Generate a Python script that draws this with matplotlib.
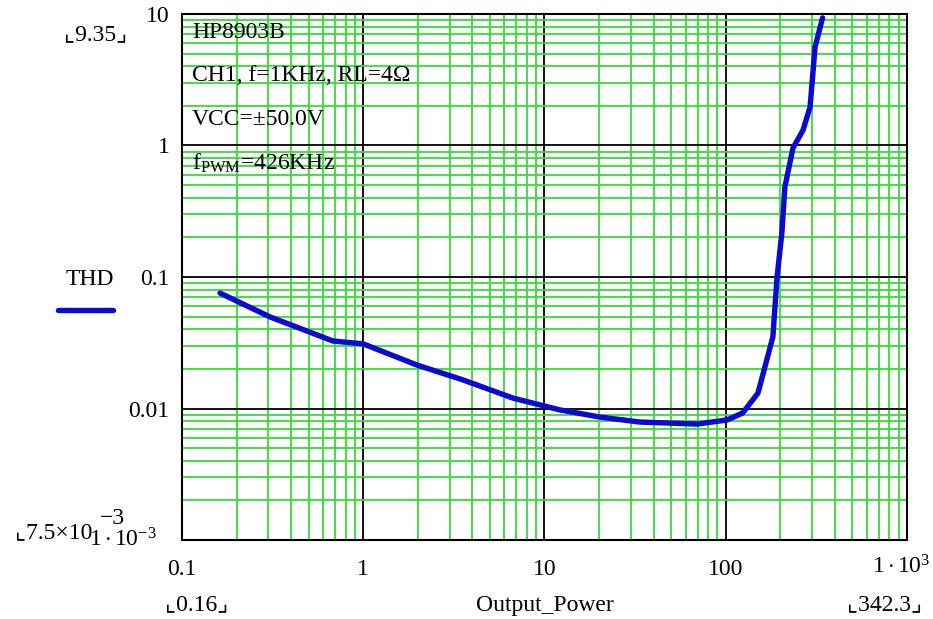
import matplotlib
matplotlib.use('Agg')
import matplotlib.pyplot as plt
import matplotlib.ticker as ticker
import numpy as np

# THD vs output power
output_power = [0.162, 0.306, 0.681, 1.0, 1.98, 3.55, 6.70, 12.2, 20.2, 33.6,
                69.4, 101.6, 124, 150.6, 182, 192, 204, 212, 235, 267, 292,
                311, 342.3]
thd = [0.0755, 0.0497, 0.0326, 0.0310, 0.0214, 0.0165, 0.0120, 0.00975,
       0.00861, 0.00789, 0.00762, 0.00818, 0.00924, 0.0131, 0.035, 0.1,
       0.216, 0.483, 0.957, 1.31, 1.96, 5.6, 9.35]

x_ticks = [0.1, 1, 10, 100, 1000]
x_labels = ['0.1', '1', '10', '100', '']
y_ticks = [0.001, 0.01, 0.1, 1, 10]
y_labels = ['', '0.01', '0.1', '1', '10']

notes = ['HP8903B', 'CH1, f=1KHz, RL=4\u03a9', 'VCC=\u00b150.0V',
         r'f$_{\mathrm{PWM}}$=426KHz']

plt.rcParams['font.family'] = ['Liberation Serif', 'DejaVu Sans']
plt.rcParams['mathtext.fontset'] = 'custom'
plt.rcParams['mathtext.rm'] = 'Liberation Serif'
plt.rcParams['mathtext.it'] = 'Liberation Serif:italic'

fs = 17
green = '#36dc36'
blue = '#0a0ad2'

fig = plt.figure(figsize=(9.33, 6.19), dpi=100)
ax = fig.add_axes([0.1951, 0.1276, 0.7770, 0.8498])

ax.plot(output_power, thd, color=blue, lw=3.9, solid_capstyle='round', zorder=5)

ax.set_xscale('log')
ax.set_yscale('log')
ax.set_xlim(0.1, 1000)
ax.set_ylim(0.001, 10)

ax.xaxis.set_minor_locator(ticker.LogLocator(base=10, subs=np.arange(2, 10)))
ax.yaxis.set_minor_locator(ticker.LogLocator(base=10, subs=np.arange(2, 10)))
ax.xaxis.set_minor_formatter(ticker.NullFormatter())
ax.yaxis.set_minor_formatter(ticker.NullFormatter())

ax.set_xticks(x_ticks)
ax.set_xticklabels(x_labels)
ax.set_yticks(y_ticks)
ax.set_yticklabels(y_labels)

ax.grid(which='minor', color=green, lw=1.3, zorder=0)
ax.grid(which='major', color='black', lw=1.3, zorder=1)
ax.set_axisbelow(True)
ax.tick_params(which='both', length=0)
ax.tick_params(axis='x', pad=14, labelsize=fs)
ax.tick_params(axis='y', pad=9, labelsize=fs)

for sp in ax.spines.values():
    sp.set_linewidth(1.5)
    sp.set_color('black')

# annotation block in the top-left corner
for i, txt in enumerate(notes):
    ax.text(0.014, 0.985 - i * 0.0825, txt, transform=ax.transAxes,
            fontsize=fs, va='top', ha='left', zorder=6)

# Mathcad style range markers and axis names
bracket = ['Liberation Serif', 'DejaVu Sans']
fig.text(96 / 933, 1 - 35 / 619, '\u231e9.35\u231f', fontsize=fs,
         family=bracket, ha='center', va='center')
fig.text(15 / 933, 1 - 533 / 619, '\u231e7.5\u00d710', fontsize=fs,
         family=bracket, ha='left', va='center')
fig.text(100 / 933, 1 - 519 / 619, '\u22123', fontsize=fs,
         family=bracket, ha='left', va='center')
# end tick labels drawn by hand so they sit like the original
fig.text(157 / 933, 1 - 540 / 619, r'$1\cdot10^{-3}$', fontsize=fs,
         ha='right', va='center')
fig.text(931 / 933, 1 - 567 / 619, r'$1\cdot10^{3}$', fontsize=fs,
         ha='right', va='center')
fig.text(197 / 933, 1 - 605 / 619, '\u231e0.16\u231f', fontsize=fs,
         family=bracket, ha='center', va='center')
fig.text(885 / 933, 1 - 605 / 619, '\u231e342.3\u231f', fontsize=fs,
         family=bracket, ha='center', va='center')
fig.text(545 / 933, 1 - 605 / 619, 'Output_Power', fontsize=fs,
         ha='center', va='center')

# legend entry on the left
fig.text(90 / 933, 1 - 279 / 619, 'THD', fontsize=fs, ha='center', va='center')
fig.add_artist(plt.Line2D([58 / 933, 113 / 933], [1 - 310 / 619, 1 - 310 / 619],
                          transform=fig.transFigure, color=blue, lw=3.9,
                          solid_capstyle='round'))

fig.savefig('out.png', dpi=100)
